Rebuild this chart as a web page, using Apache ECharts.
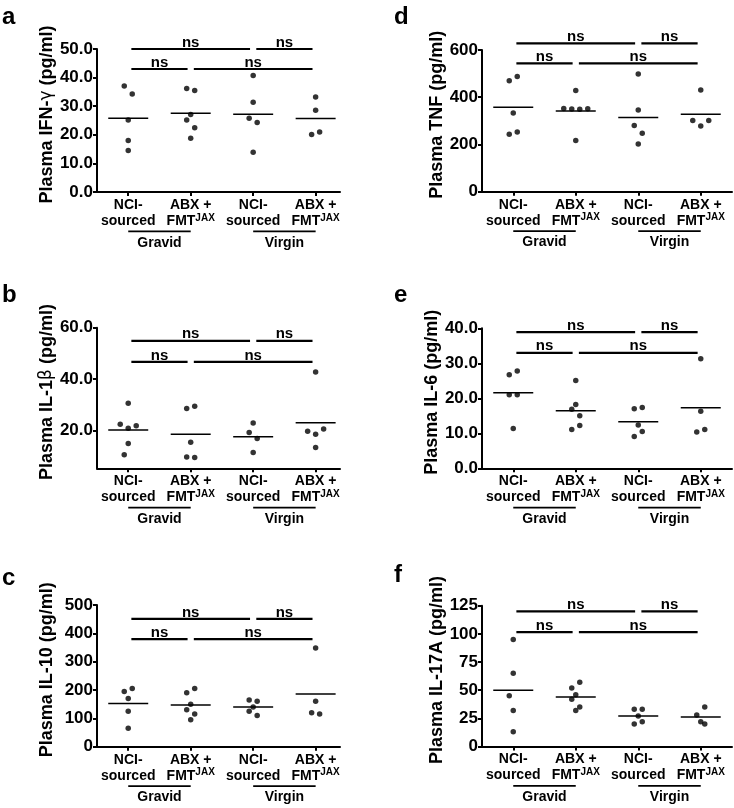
<!DOCTYPE html>
<html><head><meta charset="utf-8">
<script src="https://cdn.jsdelivr.net/npm/echarts@6/dist/echarts.min.js"></script>
<style>html,body{margin:0;padding:0;background:#fff}#c{width:734px;height:808px}</style>
</head><body><div id="c"></div>
<script>
// ---------- data ----------
const categories = ['NCI-|sourced', 'ABX +|FMT|JAX', 'NCI-|sourced', 'ABX +|FMT|JAX'];
const groupNames = ['Gravid', 'Virgin'];
const groupSpans = [[1, 2], [3, 4]];
const comparisons = [[1, 3, 0], [3, 4, 0], [1, 2, 1], [2, 4, 1]]; // from, to, level(0 top,1 lower)
const sigText = 'ns';

// a: IFN-gamma
const aValues = [[37.1, 34.3, 25.2, 18.0, 14.5], [36.2, 35.5, 27.1, 25.2, 22.5, 18.8], [40.7, 31.4, 25.8, 24.3, 13.9], [33.2, 28.6, 20.1, 21.0]];
const aJitter = [[-1, 1, 0, 0, 0], [-1, 1, 0, -1, 1, 0], [0, 0, -1, 1, 0], [0, 0, -1, 1]];
const aSigLevels = [50, 43];
const aTicks = [0, 10, 20, 30, 40, 50];
// b: IL-1beta
const bValues = [[30.7, 22.5, 21.0, 21.9, 15.0, 10.7], [29.5, 28.6, 15.5, 9.8, 9.6], [23.0, 19.3, 17.0, 11.5], [42.8, 19.8, 18.6, 20.7, 13.5]];
const bJitter = [[0, -2, 0, 2, 0, -1], [1, -1, 0, -1, 1], [0, -1, 1, 0], [0, -2, 0, 2, 0]];
const bSigLevels = [54.9, 46.7];
const bTicks = [20, 40, 60];
// c: IL-10
const cValues = [[205, 195, 170, 125, 65], [205, 190, 150, 130, 115, 95], [165, 160, 140, 125, 110], [348, 160, 120, 115]];
const cJitter = [[1, -1, 0, 0, 0], [1, -1, 0, -1, 1, 0], [-1, 1, 0, -1, 1], [0, 0, -1, 1]];
const cSigLevels = [451, 379.5];
const cTicks = [0, 100, 200, 300, 400, 500];
// d: TNF
const dValues = [[470, 488, 333, 243, 253], [429, 352, 350, 349, 351, 217], [498, 346, 280, 247, 202], [431, 301, 278, 301]];
const dJitter = [[-1, 1, 0, -1, 1], [0, -3, -1, 1, 3, 0], [0, 0, -1, 1, 0], [0, -2, 0, 2]];
const dSigLevels = [628, 543.5];
const dTicks = [0, 200, 400, 600];
// e: IL-6
const eValues = [[26.7, 27.8, 21.0, 21.0, 11.4], [25.1, 18.2, 16.9, 15.0, 11.1, 12.2], [17.0, 17.4, 12.4, 9.1, 10.5], [31.3, 16.3, 10.4, 11.1]];
const eJitter = [[-1, 1, -1, 1, 0], [0, 0, -1, 1, -1, 1], [-1, 1, 0, -1, 1], [0, 0, -1, 1]];
const eSigLevels = [38.9, 33.0];
const eTicks = [0, 10, 20, 30, 40];
// f: IL-17A
const fValues = [[95, 65, 45, 32, 13], [57, 52, 46, 42, 35, 32], [33, 33, 27, 20, 22], [35, 28, 22, 20]];
const fJitter = [[0, 0, -1, 0, 0], [1, -1, 0, -1, 1, 0], [-1, 1, 0, -1, 1], [1, -1, 0, 1]];
const fSigLevels = [120, 101.5];
const fTicks = [0, 25, 50, 75, 100, 125];

// ---------- layout ----------
const FONT = 'Arial, "Liberation Sans", sans-serif';
const JIT = 0.064;
const panels = [
  {letter: 'a', vals: aValues, jit: aJitter, sig: aSigLevels, ticks: aTicks, min: 0, max: 50, dec: 1,
   name: '{n|Plasma IFN-}{s|γ}{n| (pg/ml)}', grid: {left: 97, top: 49, width: 243, height: 143}, xmax: 4.39, col: 0, ltop: 5},
  {letter: 'b', vals: bValues, jit: bJitter, sig: bSigLevels, ticks: bTicks, min: 5.4, max: 60, dec: 1,
   name: '{n|Plasma IL-1}{s|β}{n| (pg/ml)}', grid: {left: 97, top: 327.7, width: 243, height: 140.6}, xmax: 4.39, col: 0, ltop: 283},
  {letter: 'c', vals: cValues, jit: cJitter, sig: cSigLevels, ticks: cTicks, min: 0, max: 500, dec: 0,
   name: '{n|Plasma IL-10 (pg/ml)}', grid: {left: 97, top: 605, width: 243, height: 141.7}, xmax: 4.39, col: 0, ltop: 566},
  {letter: 'd', vals: dValues, jit: dJitter, sig: dSigLevels, ticks: dTicks, min: 0, max: 600, dec: 0,
   name: '{n|Plasma TNF (pg/ml)}', grid: {left: 482, top: 50, width: 250, height: 141.7}, xmax: 4.5, col: 1, ltop: 5},
  {letter: 'e', vals: eValues, jit: eJitter, sig: eSigLevels, ticks: eTicks, min: 0, max: 40, dec: 1,
   name: '{n|Plasma IL-6 (pg/ml)}', grid: {left: 482, top: 328.3, width: 250, height: 140}, xmax: 4.5, col: 1, ltop: 283},
  {letter: 'f', vals: fValues, jit: fJitter, sig: fSigLevels, ticks: fTicks, min: 0, max: 125, dec: 0,
   name: '{n|Plasma IL-17A (pg/ml)}', grid: {left: 482, top: 605.7, width: 250, height: 140.8}, xmax: 4.5, col: 1, ltop: 563}
];

const option = {
  animation: false,
  backgroundColor: '#fff',
  title: [], grid: [], xAxis: [], yAxis: [], series: []
};

function catLabel(i) {
  const parts = categories[i].split('|');
  if (parts.length === 3) return '{b|' + parts[0] + '}\n{b|' + parts[1] + '}{sup|' + parts[2] + '}';
  return '{b|' + parts[0] + '}\n{b|' + parts[1] + '}';
}

panels.forEach((p, k) => {
  option.title.push({text: p.letter, left: p.col ? 394 : 2, top: p.ltop, padding: 0,
    textStyle: {fontFamily: FONT, fontWeight: 'bold', fontSize: 24, color: '#000'}});
  option.grid.push(Object.assign({containLabel: false, outerBoundsMode: 'none'}, p.grid));
  option.xAxis.push({
    type: 'value', gridIndex: k, min: 0.5, max: p.xmax,
    splitLine: {show: false},
    axisLine: {show: true, onZero: false, lineStyle: {color: '#000', width: 2}},
    axisTick: {show: true, customValues: [1, 2, 3, 4], length: 4, lineStyle: {color: '#000', width: 2}},
    axisLabel: {
      show: true, customValues: [1, 2, 3, 4], margin: 5,
      formatter: v => catLabel(Math.round(v) - 1),
      rich: {
        b: {fontFamily: FONT, fontWeight: 'bold', fontSize: 14, lineHeight: 16, color: '#000'},
        sup: {fontFamily: FONT, fontWeight: 'bold', fontSize: 10, lineHeight: 16, verticalAlign: 'top', color: '#000'}
      }
    }
  });
  const yax = {
    type: 'value', gridIndex: k, min: p.min, max: p.max,
    name: p.name, nameLocation: 'middle', nameGap: p.col ? 27 : 41,
    nameTextStyle: {
      padding: [0, 0, 0, 12],
      rich: {
        n: {fontFamily: FONT, fontWeight: 'bold', fontSize: 18, color: '#000'},
        s: {fontFamily: '"DejaVu Sans", sans-serif', fontWeight: 'normal', fontSize: 17, color: '#000'}
      }
    },
    splitLine: {show: false},
    axisLine: {show: true, lineStyle: {color: '#000', width: 2}},
    axisTick: {show: true, customValues: p.ticks, length: 4, lineStyle: {color: '#000', width: 2}},
    axisLabel: {show: true, customValues: p.ticks, margin: 4, fontFamily: FONT, fontWeight: 'bold', fontSize: 17, color: '#000',
      formatter: v => v.toFixed(p.dec)}
  };
  option.yAxis.push(yax);

  // points
  const pts = [];
  p.vals.forEach((arr, gi) => arr.forEach((v, j) => pts.push([gi + 1 + p.jit[gi][j] * JIT, v])));
  option.series.push({type: 'scatter', xAxisIndex: k, yAxisIndex: k, data: pts, symbol: 'circle', symbolSize: 5.5,
    itemStyle: {color: '#000'}, silent: true, clip: false});

  // means
  const means = p.vals.map((arr, gi) => [gi + 1, arr.reduce((s, x) => s + x, 0) / arr.length]);
  option.series.push({type: 'custom', coordinateSystem: 'cartesian2d', xAxisIndex: k, yAxisIndex: k, clip: false,
    data: means, encode: {x: 0, y: 1},
    renderItem: (params, api) => {
      const a = api.coord([api.value(0) - 0.32, api.value(1)]);
      const b = api.coord([api.value(0) + 0.32, api.value(1)]);
      return {type: 'line', shape: {x1: a[0], y1: a[1], x2: b[0], y2: b[1]}, style: {stroke: '#000', lineWidth: 1.5}};
    }});

  // significance bars
  const sig = comparisons.map(c => [c[0] + 0.05, c[1] - 0.05, p.sig[c[2]]]);
  option.series.push({type: 'custom', coordinateSystem: 'cartesian2d', xAxisIndex: k, yAxisIndex: k, clip: false,
    data: sig, encode: {x: [0, 1], y: 2},
    renderItem: (params, api) => {
      const a = api.coord([api.value(0), api.value(2)]);
      const b = api.coord([api.value(1), api.value(2)]);
      return {type: 'group', children: [
        {type: 'line', shape: {x1: a[0], y1: a[1], x2: b[0], y2: b[1]}, style: {stroke: '#000', lineWidth: 2.2}},
        {type: 'text', x: (a[0] + b[0]) / 2, y: a[1] + 1,
          style: {text: sigText, textAlign: 'center', textVerticalAlign: 'bottom', font: 'bold 15px ' + FONT, fill: '#000'}}
      ]};
    }});

  // group labels under axis
  const grp = groupSpans.map((s, i) => [s[0], s[1], i]);
  option.series.push({type: 'custom', coordinateSystem: 'cartesian2d', xAxisIndex: k, yAxisIndex: k, clip: false,
    data: grp, encode: {x: [0, 1]},
    renderItem: (params, api) => {
      const a = api.coord([api.value(0), p.min]);
      const b = api.coord([api.value(1), p.min]);
      return {type: 'group', children: [
        {type: 'line', shape: {x1: a[0], y1: a[1] + 39.4, x2: b[0], y2: b[1] + 39.4}, style: {stroke: '#000', lineWidth: 1.8}},
        {type: 'text', x: (a[0] + b[0]) / 2, y: a[1] + 50.7,
          style: {text: groupNames[api.value(2)], textAlign: 'center', textVerticalAlign: 'middle', font: 'bold 14px ' + FONT, fill: '#000'}}
      ]};
    }});
});

const chart = echarts.init(document.getElementById('c'), null, {renderer: 'canvas'});
chart.setOption(option);
</script>
</body></html>
